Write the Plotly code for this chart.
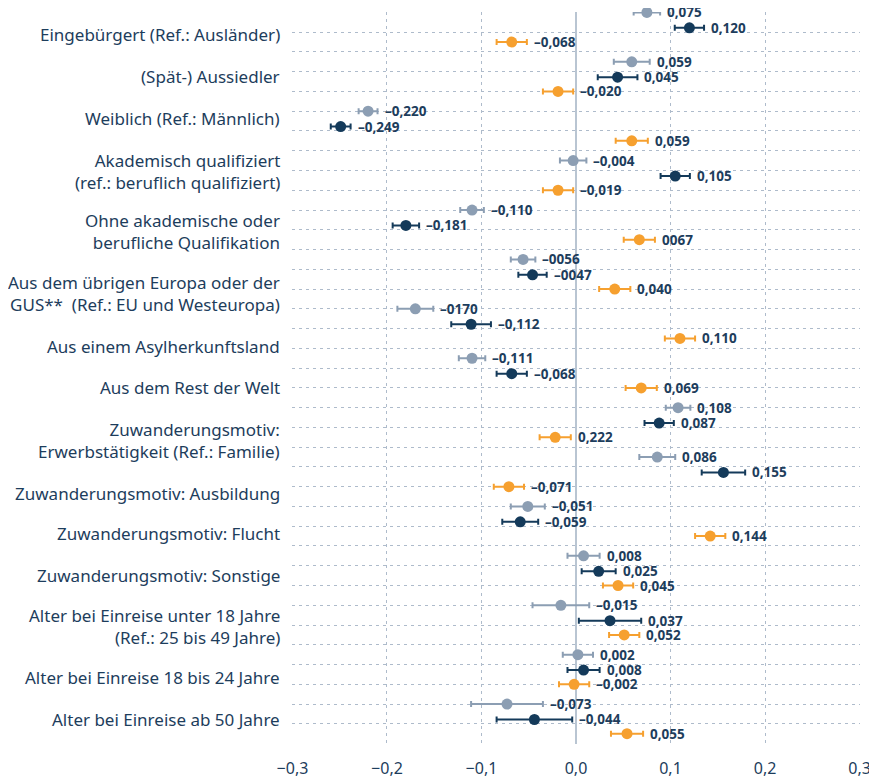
import plotly.graph_objects as go

# Kategorien (Reihenfolge von oben nach unten)
categories = [
    "Eingebürgert (Ref.: Ausländer)",
    "(Spät-) Aussiedler",
    "Weiblich (Ref.: Männlich)",
    "Akademisch qualifiziert<br>(ref.: beruflich qualifiziert)",
    "Ohne akademische oder<br>berufliche Qualifikation",
    "Aus dem übrigen Europa oder der<br>GUS**  (Ref.: EU und Westeuropa)",
    "Aus einem Asylherkunftsland",
    "Aus dem Rest der Welt",
    "Zuwanderungsmotiv:<br>Erwerbstätigkeit (Ref.: Familie)",
    "Zuwanderungsmotiv: Ausbildung",
    "Zuwanderungsmotiv: Flucht",
    "Zuwanderungsmotiv: Sonstige",
    "Alter bei Einreise unter 18 Jahre<br>(Ref.: 25 bis 49 Jahre)",
    "Alter bei Einreise 18 bis 24 Jahre",
    "Alter bei Einreise ab 50 Jahre",
]

# Serie 1 (hellgrau-blau)
light_vals = [0.075, 0.059, -0.220, -0.003, -0.110, -0.056, -0.170, -0.110,
              0.108, 0.086, -0.051, 0.008, -0.016, 0.002, -0.073]
light_err = [0.014, 0.019, 0.010, 0.014, 0.0125, 0.013, 0.019, 0.014,
             0.013, 0.019, 0.018, 0.017, 0.030, 0.016, 0.038]
light_text = ["0,075", "0,059", "–0,220", "–0,004", "–0,110", "–0056", "–0170", "–0,111",
              "0,108", "0,086", "–0,051", "0,008", "–0,015", "0,002", "–0,073"]

# Serie 2 (dunkelblau)
dark_vals = [0.120, 0.044, -0.249, 0.105, -0.180, -0.046, -0.111, -0.068,
             0.088, 0.156, -0.059, 0.024, 0.036, 0.008, -0.044]
dark_err = [0.0155, 0.021, 0.0105, 0.0155, 0.014, 0.015, 0.021, 0.016,
            0.0155, 0.023, 0.019, 0.018, 0.033, 0.017, 0.040]
dark_text = ["0,120", "0,045", "–0,249", "0,105", "–0,181", "–0047", "–0,112", "–0,068",
             "0,087", "0,155", "–0,059", "0,025", "0,037", "0,008", "–0,044"]

# Serie 3 (orange)
orange_vals = [-0.068, -0.019, 0.059, -0.019, 0.067, 0.041, 0.110, 0.069,
               -0.022, -0.071, 0.142, 0.0445, 0.051, -0.002, 0.054]
orange_err = [0.016, 0.016, 0.017, 0.016, 0.0165, 0.0165, 0.016, 0.0165,
              0.0165, 0.016, 0.016, 0.016, 0.016, 0.016, 0.017]
orange_text = ["–0,068", "–0,020", "0,059", "–0,019", "0067", "0,040", "0,110", "0,069",
               "0,222", "–0,071", "0,144", "0,045", "0,052", "–0,002", "0,055"]

TEXT = "#1d3d5c"
GRID = "#aebbcb"
FONT = "Noto Sans"

# Zeilenlage: 2,5 Rastereinheiten je Gruppe, drei Zeilen je Gruppe
GROUP_PITCH = 2.5
ROW_OFFSETS = [0.0, 0.78, 1.5]
label_y = [1.10, 3.25, 5.35, 8.04, 11.07, 14.21, 16.9, 18.97, 21.66,
           24.34, 26.36, 28.49, 31.07, 33.66, 35.78]

series = [
    (light_vals, light_err, light_text, "#8c9eb3"),
    (dark_vals, dark_err, dark_text, "#143a5a"),
    (orange_vals, orange_err, orange_text, "#f6a02f"),
]

fig = go.Figure()
annotations = []
for s, (vals, errs, texts, color) in enumerate(series):
    ys = [g * GROUP_PITCH + ROW_OFFSETS[s] for g in range(len(vals))]
    fig.add_trace(go.Scatter(
        x=vals, y=ys, mode="markers",
        marker=dict(size=11, color=color),
        error_x=dict(type="data", array=errs, color=color, thickness=2, width=3),
        cliponaxis=False, showlegend=False, hoverinfo="x",
    ))
    for v, e, t, y in zip(vals, errs, texts, ys):
        annotations.append(dict(
            x=v + e, y=y, xref="x", yref="y", text=t, showarrow=False,
            xanchor="left", yanchor="middle", xshift=5,
            font=dict(family=FONT, size=13.5, color=TEXT, weight="bold"),
        ))

for cat, y in zip(categories, label_y):
    annotations.append(dict(
        x=0, y=y, xref="paper", yref="y", text=cat, showarrow=False,
        xanchor="right", yanchor="middle", xshift=-10, align="right",
        font=dict(family=FONT, size=17, color=TEXT),
    ))

# die Seite hat 8px Rand, daher etwas kleiner als das Fenster
fig.update_layout(
    width=869, height=770,
    margin=dict(l=284, r=17, t=4, b=34),
    plot_bgcolor="white", paper_bgcolor="white",
    separators=", ",
    font=dict(family=FONT, color=TEXT),
    annotations=annotations,
    xaxis=dict(
        range=[-0.3005, 0.3005], tick0=0, dtick=0.1, tickformat=".1f",
        showgrid=True, gridcolor=GRID, griddash="3px,4px", gridwidth=1,
        zeroline=True, zerolinecolor="#b9c5d2", zerolinewidth=2,
        ticks="outside", ticklen=10, tickcolor="rgba(0,0,0,0)",
        tickfont=dict(family=FONT, size=16, color=TEXT),
        ticklabeloverflow="allow", automargin=False,
        showline=False, fixedrange=True,
    ),
    yaxis=dict(
        range=[37.02, -0.02], tick0=0, dtick=1,
        showgrid=True, gridcolor=GRID, griddash="3px,4px", gridwidth=1,
        zeroline=False, showticklabels=False, showline=False,
        automargin=False, fixedrange=True,
    ),
)

fig.write_html("out.html")
